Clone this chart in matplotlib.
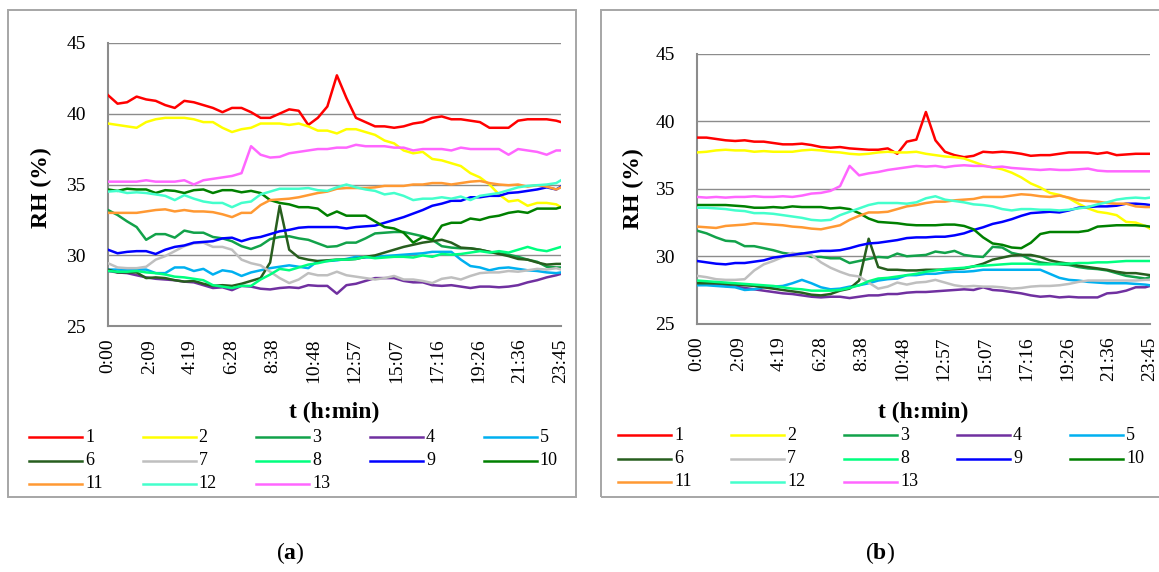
import numpy as np
import matplotlib
matplotlib.use("Agg")
import matplotlib.pyplot as plt
from matplotlib.lines import Line2D
from matplotlib.patches import Rectangle

plt.rcParams["font.family"] = ["Liberation Serif", "DejaVu Serif"]
plt.rcParams["mathtext.fontset"] = "custom"
plt.rcParams["mathtext.rm"] = "Liberation Serif"
plt.rcParams["mathtext.bf"] = "Liberation Serif:bold"

# time of day in minutes (half-hour readings, last one at 23:45)
T = list(range(0, 1411, 30)) + [1425]
TICK_LABELS = ["0:00", "2:09", "4:19", "6:28", "8:38", "10:48",
               "12:57", "15:07", "17:16", "19:26", "21:36", "23:45"]
NAMES = [str(i) for i in range(1, 14)]
COLORS = ["#FF0000", "#FFFF00", "#12A24A", "#7030A0", "#00B0F0", "#275E1E",
          "#BFBFBF", "#00FF7F", "#0000FF", "#008000", "#FF9933", "#44FFCC",
          "#FF66FF"]

# ---- panel (a) ----
A1 = [41.3, 40.7, 40.8, 41.2, 41.0, 40.9, 40.6, 40.4, 40.9, 40.8, 40.6, 40.4,
      40.1, 40.4, 40.4, 40.1, 39.7, 39.7, 40.0, 40.3, 40.2, 39.2, 39.7, 40.5,
      42.7, 41.1, 39.7, 39.4, 39.1, 39.1, 39.0, 39.1, 39.3, 39.4, 39.7, 39.8,
      39.6, 39.6, 39.5, 39.4, 39.0, 39.0, 39.0, 39.5, 39.6, 39.6, 39.6, 39.5, 39.4]
A2 = [39.3, 39.2, 39.1, 39.0, 39.4, 39.6, 39.7, 39.7, 39.7, 39.6, 39.4, 39.4,
      39.0, 38.7, 38.9, 39.0, 39.3, 39.3, 39.3, 39.2, 39.3, 39.1, 38.8, 38.8,
      38.6, 38.9, 38.9, 38.7, 38.5, 38.1, 37.9, 37.4, 37.2, 37.3, 36.8, 36.7,
      36.5, 36.3, 35.8, 35.5, 35.0, 34.3, 33.8, 33.9, 33.5, 33.7, 33.7, 33.6, 33.4]
A3 = [33.2, 32.85, 32.4, 32.0, 31.1, 31.5, 31.5, 31.25, 31.75, 31.6, 31.6, 31.3,
      31.2, 31.0, 30.65, 30.45, 30.7, 31.15, 31.3, 31.35, 31.2, 31.1, 30.85, 30.6,
      30.65, 30.9, 30.9, 31.2, 31.55, 31.6, 31.65, 31.65, 31.5, 31.35, 31.1, 30.65,
      30.55, 30.5, 30.5, 30.4, 30.25, 30.15, 30.05, 29.9, 29.7, 29.55, 29.2, 29.15, 29.15]
A4 = [28.9, 28.8, 28.75, 28.6, 28.45, 28.35, 28.3, 28.25, 28.15, 28.1, 27.9, 27.7,
      27.75, 27.55, 27.85, 27.8, 27.65, 27.6, 27.7, 27.75, 27.7, 27.9, 27.85, 27.85,
      27.3, 27.9, 28.0, 28.2, 28.4, 28.4, 28.4, 28.2, 28.1, 28.1, 27.9, 27.85,
      27.9, 27.8, 27.7, 27.8, 27.8, 27.75, 27.8, 27.9, 28.1, 28.25, 28.45, 28.6, 28.7]
A5 = [29.0, 29.0, 28.95, 29.0, 29.0, 28.75, 28.75, 29.15, 29.15, 28.9, 29.05, 28.65,
      28.95, 28.85, 28.55, 28.8, 28.95, 29.1, 29.2, 29.3, 29.2, 29.1, 29.6, 29.6,
      29.65, 29.75, 29.9, 29.85, 29.9, 29.95, 30.0, 30.05, 30.1, 30.15, 30.25, 30.25,
      30.25, 29.7, 29.25, 29.15, 28.95, 29.1, 29.15, 29.05, 28.95, 28.9, 28.8, 28.75, 28.8]
A6 = [29.0, 28.8, 28.8, 28.8, 28.4, 28.45, 28.4, 28.25, 28.15, 28.2, 28.0, 27.85,
      27.9, 27.85, 28.0, 28.2, 28.4, 29.5, 33.5, 30.4, 29.85, 29.7, 29.6, 29.65,
      29.7, 29.7, 29.75, 29.9, 30.0, 30.2, 30.4, 30.6, 30.75, 30.9, 31.0, 31.1,
      30.9, 30.55, 30.5, 30.4, 30.25, 30.1, 29.95, 29.75, 29.7, 29.5, 29.35, 29.4, 29.4]
A7 = [29.45, 29.15, 29.1, 29.1, 29.2, 29.7, 29.95, 30.3, 30.65, 30.85, 30.9, 30.6,
      30.6, 30.4, 29.7, 29.45, 29.3, 28.85, 28.4, 28.05, 28.3, 28.75, 28.6, 28.6,
      28.85, 28.6, 28.5, 28.4, 28.3, 28.4, 28.55, 28.3, 28.3, 28.2, 28.05, 28.35,
      28.45, 28.3, 28.55, 28.75, 28.8, 28.8, 28.9, 28.85, 28.95, 29.05, 29.0, 29.1, 29.0]
A8 = [28.9, 28.85, 28.85, 28.9, 28.8, 28.75, 28.65, 28.5, 28.45, 28.35, 28.25, 27.9,
      27.8, 27.7, 27.85, 27.85, 28.3, 28.65, 29.05, 28.95, 29.15, 29.35, 29.45, 29.6,
      29.7, 29.7, 29.75, 29.9, 29.8, 29.85, 29.9, 29.9, 29.85, 30.0, 29.9, 30.1,
      30.05, 30.1, 30.2, 30.3, 30.2, 30.3, 30.2, 30.4, 30.6, 30.4, 30.3, 30.5, 30.6]
A9 = [30.4, 30.15, 30.25, 30.3, 30.3, 30.1, 30.4, 30.6, 30.7, 30.9, 30.95, 31.0,
      31.2, 31.25, 31.0, 31.2, 31.3, 31.5, 31.7, 31.8, 31.95, 32.0, 32.0, 32.0,
      32.0, 31.9, 32.0, 32.05, 32.1, 32.3, 32.5, 32.7, 32.95, 33.2, 33.5, 33.65,
      33.85, 33.85, 34.1, 34.1, 34.2, 34.2, 34.4, 34.45, 34.55, 34.65, 34.8, 34.65, 34.85]
A10 = [34.65, 34.55, 34.7, 34.65, 34.65, 34.4, 34.6, 34.55, 34.4, 34.6, 34.65, 34.4,
       34.6, 34.6, 34.45, 34.55, 34.4, 33.9, 33.7, 33.6, 33.4, 33.4, 33.3, 32.8,
       33.1, 32.8, 32.8, 32.8, 32.4, 32.0, 31.9, 31.6, 30.9, 31.3, 31.1, 32.1,
       32.3, 32.3, 32.6, 32.5, 32.7, 32.8, 33.0, 33.1, 33.0, 33.3, 33.3, 33.3, 33.4]
A11 = [33.0, 33.0, 33.0, 33.0, 33.1, 33.2, 33.25, 33.1, 33.2, 33.1, 33.1, 33.05,
       32.9, 32.7, 33.0, 33.0, 33.55, 33.9, 33.95, 34.0, 34.1, 34.25, 34.4, 34.5,
       34.7, 34.75, 34.75, 34.75, 34.8, 34.9, 34.9, 34.9, 35.0, 35.0, 35.1, 35.1,
       35.0, 35.1, 35.2, 35.25, 35.1, 35.0, 34.95, 35.0, 34.85, 34.95, 34.85, 34.65, 34.8]
A12 = [34.5, 34.55, 34.4, 34.45, 34.4, 34.3, 34.2, 33.9, 34.25, 34.0, 33.8, 33.7,
       33.7, 33.4, 33.7, 33.8, 34.3, 34.5, 34.7, 34.7, 34.7, 34.75, 34.6, 34.55,
       34.8, 35.0, 34.8, 34.65, 34.55, 34.3, 34.4, 34.2, 33.9, 34.0, 34.0, 34.1,
       34.0, 34.15, 33.9, 34.2, 34.3, 34.4, 34.6, 34.8, 34.9, 34.95, 35.0, 35.1, 35.3]
A13 = [35.2, 35.2, 35.2, 35.2, 35.3, 35.2, 35.2, 35.2, 35.3, 35.0, 35.3, 35.4,
       35.5, 35.6, 35.8, 37.7, 37.1, 36.9, 36.95, 37.2, 37.3, 37.4, 37.5, 37.5,
       37.6, 37.6, 37.8, 37.7, 37.7, 37.7, 37.6, 37.6, 37.4, 37.5, 37.5, 37.5,
       37.4, 37.6, 37.5, 37.5, 37.5, 37.5, 37.1, 37.5, 37.4, 37.3, 37.1, 37.4, 37.4]

# ---- panel (b) ----
B1 = [38.8, 38.8, 38.7, 38.6, 38.55, 38.6, 38.5, 38.5, 38.4, 38.3, 38.3, 38.35,
      38.25, 38.1, 38.05, 38.1, 38.0, 37.95, 37.9, 37.9, 38.0, 37.6, 38.5, 38.65,
      40.7, 38.6, 37.75, 37.5, 37.35, 37.45, 37.75, 37.7, 37.75, 37.7, 37.6, 37.45,
      37.5, 37.5, 37.6, 37.7, 37.7, 37.7, 37.6, 37.7, 37.5, 37.55, 37.6, 37.6, 37.6]
B2 = [37.7, 37.75, 37.85, 37.9, 37.85, 37.85, 37.75, 37.8, 37.75, 37.75, 37.75, 37.85,
      37.9, 37.85, 37.75, 37.7, 37.6, 37.55, 37.6, 37.7, 37.75, 37.7, 37.7, 37.75,
      37.6, 37.5, 37.4, 37.35, 37.25, 37.0, 36.75, 36.6, 36.45, 36.2, 35.85, 35.4,
      35.1, 34.7, 34.55, 34.3, 33.9, 33.55, 33.3, 33.2, 33.05, 32.55, 32.5, 32.25, 32.05]
B3 = [31.9, 31.7, 31.4, 31.15, 31.1, 30.75, 30.75, 30.6, 30.45, 30.25, 30.15, 30.2,
      29.95, 29.95, 29.85, 29.85, 29.5, 29.65, 29.8, 29.95, 29.9, 30.2, 30.0, 30.05,
      30.1, 30.35, 30.25, 30.4, 30.1, 30.0, 29.95, 30.7, 30.65, 30.25, 30.1, 29.75,
      29.55, 29.45, 29.4, 29.35, 29.2, 29.1, 29.05, 28.95, 28.75, 28.55, 28.45, 28.35, 28.45]
B4 = [28.0, 27.95, 27.9, 27.8, 27.75, 27.65, 27.55, 27.45, 27.35, 27.25, 27.2, 27.1,
      27.0, 26.95, 27.0, 27.0, 26.9, 27.0, 27.1, 27.1, 27.2, 27.2, 27.3, 27.35,
      27.35, 27.4, 27.45, 27.5, 27.55, 27.5, 27.7, 27.5, 27.45, 27.35, 27.25, 27.1,
      27.0, 27.05, 26.95, 27.0, 26.95, 26.95, 26.95, 27.25, 27.3, 27.45, 27.7, 27.7, 27.8]
B5 = [27.85, 27.85, 27.8, 27.75, 27.7, 27.5, 27.55, 27.7, 27.75, 27.8, 28.0, 28.25,
      28.0, 27.7, 27.55, 27.6, 27.75, 27.85, 28.0, 28.2, 28.3, 28.35, 28.6, 28.6,
      28.7, 28.7, 28.8, 28.85, 28.85, 28.9, 29.0, 29.0, 29.0, 29.0, 29.0, 29.0,
      29.0, 28.7, 28.4, 28.25, 28.2, 28.1, 28.05, 28.0, 28.0, 28.0, 27.95, 27.9, 27.85]
B6 = [28.0, 28.0, 28.0, 27.95, 27.9, 27.85, 27.8, 27.7, 27.6, 27.5, 27.4, 27.3,
      27.15, 27.1, 27.2, 27.45, 27.6, 28.2, 31.3, 29.2, 29.0, 29.0, 28.95, 28.95,
      29.0, 29.0, 29.0, 29.05, 29.1, 29.25, 29.45, 29.75, 29.9, 30.05, 30.1, 30.1,
      29.95, 29.7, 29.55, 29.45, 29.3, 29.2, 29.1, 29.0, 28.85, 28.75, 28.75, 28.65, 28.6]
B7 = [28.55, 28.45, 28.3, 28.25, 28.25, 28.3, 28.95, 29.4, 29.65, 29.95, 30.25, 30.1,
      30.1, 29.55, 29.15, 28.85, 28.6, 28.5, 28.05, 27.6, 27.75, 28.05, 27.9, 28.05,
      28.1, 28.25, 28.05, 27.85, 27.75, 27.8, 27.75, 27.75, 27.7, 27.6, 27.65, 27.75,
      27.8, 27.8, 27.85, 27.95, 28.1, 28.2, 28.2, 28.2, 28.2, 28.2, 28.2, 28.25, 28.25]
B8 = [28.2, 28.15, 28.1, 28.05, 28.0, 27.95, 27.9, 27.85, 27.8, 27.7, 27.6, 27.55,
      27.45, 27.45, 27.45, 27.5, 27.65, 27.85, 28.15, 28.35, 28.4, 28.5, 28.6, 28.7,
      28.85, 28.95, 29.05, 29.1, 29.15, 29.25, 29.3, 29.35, 29.4, 29.45, 29.45, 29.45,
      29.4, 29.4, 29.45, 29.45, 29.5, 29.5, 29.55, 29.55, 29.6, 29.65, 29.65, 29.65, 29.65]
B9 = [29.65, 29.55, 29.45, 29.4, 29.5, 29.5, 29.6, 29.7, 29.9, 30.0, 30.1, 30.2,
      30.3, 30.4, 30.4, 30.45, 30.6, 30.8, 30.95, 31.0, 31.1, 31.2, 31.35, 31.4,
      31.4, 31.45, 31.45, 31.55, 31.7, 31.95, 32.15, 32.4, 32.55, 32.75, 33.0, 33.2,
      33.25, 33.3, 33.25, 33.4, 33.6, 33.65, 33.7, 33.7, 33.75, 33.9, 33.9, 33.85, 33.8]
B10 = [33.8, 33.8, 33.8, 33.8, 33.75, 33.7, 33.6, 33.6, 33.65, 33.6, 33.7, 33.65,
       33.65, 33.65, 33.55, 33.6, 33.5, 33.2, 32.8, 32.55, 32.5, 32.45, 32.35, 32.3,
       32.3, 32.3, 32.35, 32.35, 32.25, 32.0, 31.4, 30.95, 30.85, 30.65, 30.6, 31.0,
       31.65, 31.8, 31.8, 31.8, 31.8, 31.9, 32.2, 32.25, 32.3, 32.3, 32.3, 32.25, 32.2]
B11 = [32.2, 32.15, 32.1, 32.25, 32.3, 32.35, 32.45, 32.4, 32.35, 32.3, 32.2, 32.15,
       32.05, 32.0, 32.15, 32.3, 32.7, 33.0, 33.25, 33.25, 33.3, 33.5, 33.7, 33.8,
       33.95, 34.05, 34.05, 34.15, 34.2, 34.25, 34.4, 34.4, 34.4, 34.5, 34.6, 34.55,
       34.45, 34.4, 34.5, 34.35, 34.15, 34.1, 34.05, 33.95, 33.9, 33.9, 33.7, 33.65, 33.65]
B12 = [33.6, 33.6, 33.55, 33.5, 33.4, 33.35, 33.2, 33.2, 33.15, 33.05, 32.95, 32.85,
       32.7, 32.65, 32.7, 33.05, 33.3, 33.55, 33.8, 33.95, 33.95, 33.95, 33.9, 34.0,
       34.3, 34.45, 34.2, 34.1, 34.0, 33.85, 33.8, 33.7, 33.5, 33.4, 33.5, 33.5,
       33.45, 33.45, 33.4, 33.45, 33.55, 33.65, 33.85, 34.0, 34.2, 34.3, 34.35, 34.3, 34.35]
B13 = [34.4, 34.35, 34.4, 34.35, 34.4, 34.4, 34.45, 34.4, 34.4, 34.45, 34.4, 34.5,
       34.65, 34.7, 34.85, 35.2, 36.7, 36.0, 36.15, 36.25, 36.4, 36.5, 36.6, 36.7,
       36.65, 36.7, 36.6, 36.7, 36.75, 36.7, 36.7, 36.6, 36.65, 36.55, 36.5, 36.45,
       36.4, 36.45, 36.4, 36.4, 36.45, 36.5, 36.35, 36.3, 36.3, 36.3, 36.3, 36.3, 36.3]

SERIES_A = [A1, A2, A3, A4, A5, A6, A7, A8, A9, A10, A11, A12, A13]
SERIES_B = [B1, B2, B3, B4, B5, B6, B7, B8, B9, B10, B11, B12, B13]

W, H = 1159, 572
fig = plt.figure(figsize=(W / 100, H / 100), dpi=100)


def fx(px):
    return px / W


def fy(py):
    return 1 - py / H


def panel(series, box, plot, leg, ylab, xlab, tag):
    # outer frame of the Excel chart
    bx0, by0, bx1, by1 = box
    fig.add_artist(Rectangle((fx(bx0), fy(by1)), fx(bx1 - bx0), (by1 - by0) / H,
                             transform=fig.transFigure, fill=False,
                             edgecolor="#A6A6A6", lw=1.4))
    x0, y0, x1, y1 = plot
    ax = fig.add_axes([fx(x0), fy(y1), fx(x1 - x0), (y1 - y0) / H])
    for i, vals in enumerate(series):
        ax.plot(T, vals, color=COLORS[i], lw=1.8, zorder=3 + i)
    ax.set_xlim(0, 1425)
    ax.set_ylim(25, 45)
    ax.set_yticks([25, 30, 35, 40, 45])
    ax.set_xticks(np.linspace(0, 1425, len(TICK_LABELS)))
    ax.set_xticklabels(TICK_LABELS, rotation=90)
    ax.tick_params(axis="y", length=0, pad=16, labelsize=14)
    ax.tick_params(axis="x", length=0, pad=9, labelsize=14)
    ax.yaxis.grid(True, color="#8C8C8C", lw=1.0)
    ax.set_axisbelow(True)
    for s in ("top", "right"):
        ax.spines[s].set_visible(False)
    for s in ("left", "bottom"):
        ax.spines[s].set_color("#8C8C8C")
        ax.spines[s].set_linewidth(1.5)
    fig.text(fx(ylab[0]), fy(ylab[1]), "RH (%)", rotation=90, fontsize=17,
             fontweight="bold", ha="center", va="center")
    fig.text(fx(xlab[0]), fy(xlab[1]), "t (h:min)", fontsize=17,
             fontweight="bold", ha="center", va="center")
    # legend, filled row by row like the original
    lx, ly, dx, dy = leg
    for i, name in enumerate(NAMES):
        r, c = divmod(i, 5)
        xs = lx + c * dx
        yy = ly + r * dy
        fig.add_artist(Line2D([fx(xs), fx(xs + 53)], [fy(yy), fy(yy)],
                              transform=fig.transFigure, color=COLORS[i], lw=1.8))
        fig.text(fx(xs + 56), fy(yy), name, fontsize=13, ha="left", va="center")
    fig.text(fx(tag[0]), fy(tag[1]), r"($\mathbf{%s}$)" % tag[2], fontsize=17,
             ha="center", va="center")
    return ax


panel(SERIES_A, (8, 10, 576, 497), (108, 42.7, 561, 326.3),
      (29, 437, 113.7, 23.5), (41, 188), (334, 412), (290, 553, "a"))
panel(SERIES_B, (600.7, 10, 1170, 497), (697, 54, 1150, 323.7),
      (618, 435, 113.0, 23.5), (633, 189), (923, 412), (880, 553, "b"))

fig.savefig("out.png", dpi=100)
